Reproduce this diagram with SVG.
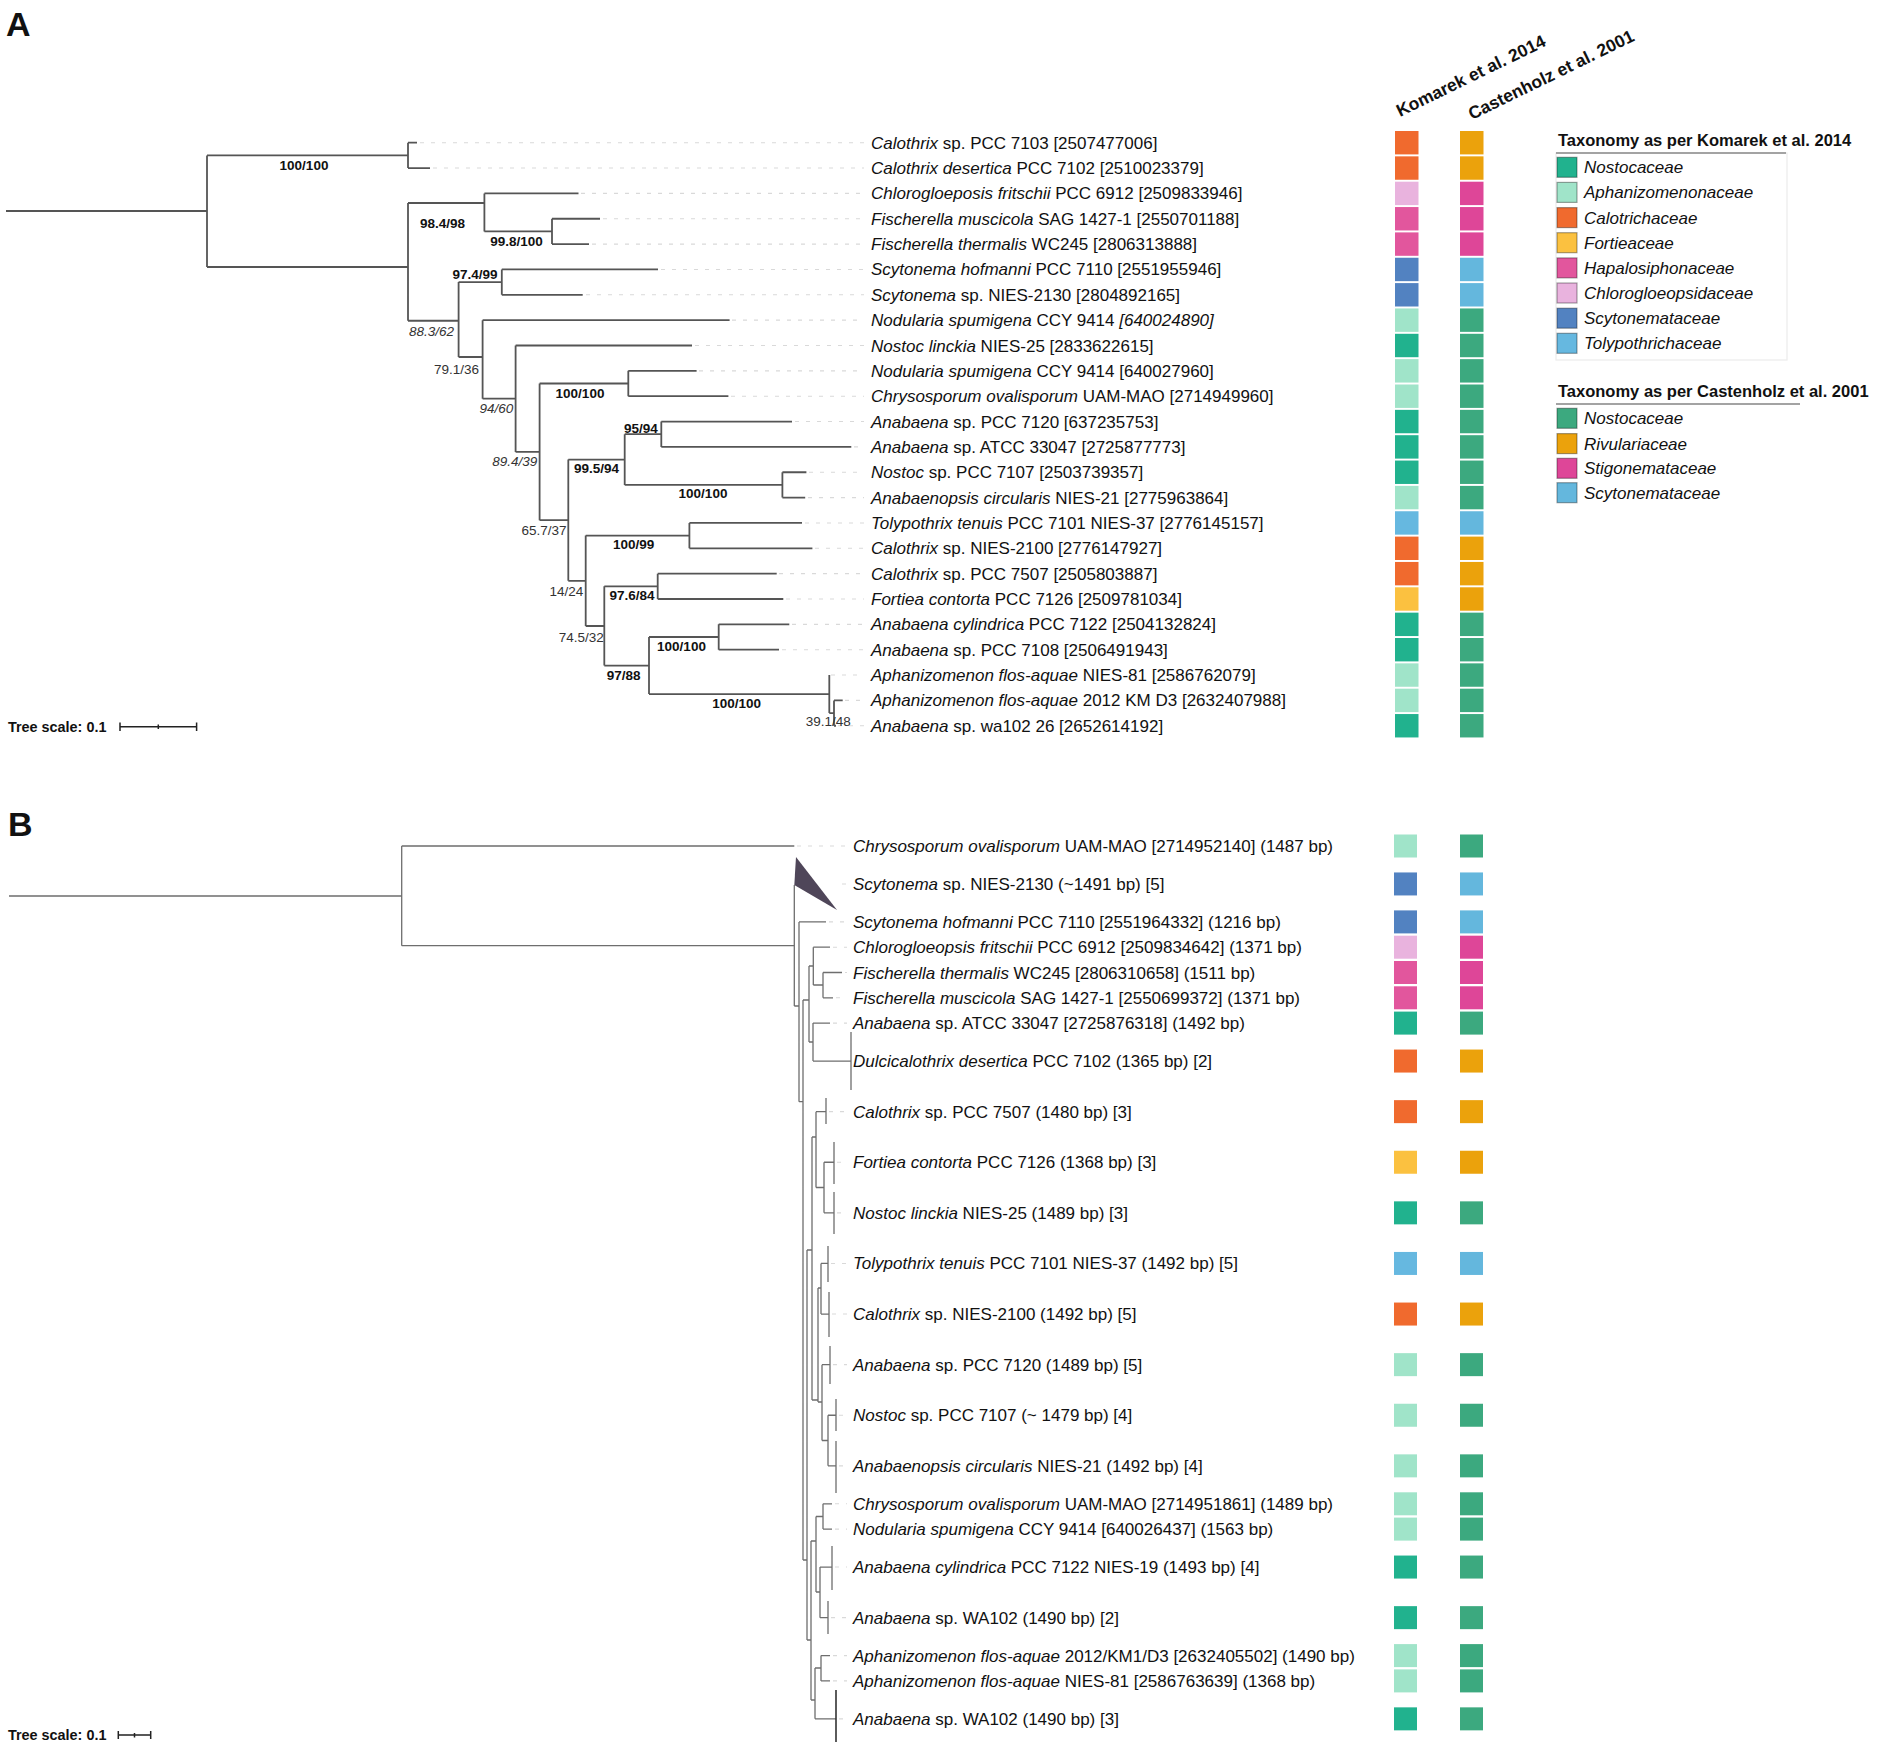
<svg xmlns="http://www.w3.org/2000/svg" width="1878" height="1747" viewBox="0 0 1878 1747">
<style>
text{font-family:"Liberation Sans",Arial,sans-serif;fill:#111}
.t{font-size:17px}
.i{font-style:italic}
.bs{font-size:13.5px;font-weight:bold;text-anchor:middle}
.br{font-size:13.5px;fill:#333;text-anchor:middle}
.hd{font-size:17.5px;font-weight:bold}
.lt{font-size:16.5px;font-weight:bold}
.li{font-size:17px;font-style:italic}
.panel{font-size:34px;font-weight:bold}
.sc{font-size:14.4px;font-weight:bold}
.treeA{fill:none;stroke:#555;stroke-width:1.8}
.treeB{fill:none;stroke:#6e6e6e;stroke-width:1.3}
.guide{fill:none;stroke:#d9d9d9;stroke-width:1.1;stroke-dasharray:4 7}
.kN{fill:#21b28e}.kA{fill:#a0e4c9}.kC{fill:#f06a2e}.kF{fill:#fbc140}.kH{fill:#e2569d}.kP{fill:#e9b3de}.kS{fill:#5282c1}.kT{fill:#66b8e0}
.cN{fill:#3ca97f}.cR{fill:#eba20c}.cS{fill:#de4698}.cT{fill:#64b7dd}
.sw{stroke:#000;stroke-opacity:0.35;stroke-width:1.2}
</style>
<rect width="1878" height="1747" fill="#fff"/>

<text class="panel" x="6" y="36">A</text>
<text class="panel" x="8" y="836">B</text>

<g id="headers">
<text class="hd" transform="translate(1400,117) rotate(-26)">Komarek et al. 2014</text>
<text class="hd" transform="translate(1472,120) rotate(-26)">Castenholz et al. 2001</text>
</g>

<g id="connectors">
<path class="guide" d="M420,142.7H864M433,168.05H864M581,193.4H864M603,218.75H864M592,244.1H864M661,269.45H864M586,294.8H864M732,320.15H864M695,345.5H864M699,370.85H864M731,396.2H864M795,421.55H864M854,446.9H864M809,472.25H864M808,497.6H864M805,522.95H864M815,548.3H864M779,573.65H864M786,599H864M792,624.35H864M782,649.7H864M831,675.05H864M845,700.4H864M838,725.75H864"/>
<path class="treeA" d="M6,211H207M207,155.4V267M207,155.4H408M408,142.7V168.05M408,142.7H417M408,168.05H430
M207,267H408M408,203V320.75M408,203H484.4M484.4,193.4V231.4M484.4,193.4H578.5M484.4,231.4H552M552,218.75V244.1M552,218.75H600M552,244.1H589
M408,320.75H458.6M458.6,282.1V357M458.6,282.1H501.8M501.8,269.45V294.8M501.8,269.45H658M501.8,294.8H582.7
M458.6,357H482.6M482.6,320.15V398.7M482.6,320.15H729.6M482.6,398.7H515.6M515.6,345.5V451.9M515.6,345.5H692
M515.6,451.9H539.6M539.6,383.5V520.2M539.6,383.5H628.3M628.3,370.85V396.2M628.3,370.85H696.6M628.3,396.2H728.4
M539.6,520.2H568.3M568.3,459.6V580.8M568.3,459.6H624.7M624.7,434.2V484.9M624.7,434.2H661.3M661.3,421.55V446.9M661.3,421.55H792M661.3,446.9H851.3
M624.7,484.9H782.4M782.4,472.25V497.6M782.4,472.25H806.4M782.4,497.6H805.2
M568.3,580.8H585.7M585.7,535.6V626M585.7,535.6H689.4M689.4,522.95V548.3M689.4,522.95H802M689.4,548.3H812.4
M585.7,626H604.3M604.3,586.3V665.6M604.3,586.3H657.7M657.7,573.65V599M657.7,573.65H776.7M657.7,599H783.3
M604.3,665.6H649M649,637V694.1M649,637H718.7M718.7,624.35V649.7M718.7,624.35H789.3M718.7,649.7H779
M649,694.1H829.3M829.3,675.05V713.1M829.3,713.1H834M834,700.4V725.75M834,700.4H842.7M834,725.75H836"/>

<path class="guide" d="M797,846H847M842,883.95H847M829,921.9H847M833,947.2H847M845,972.5H847M836,997.8H847M833,1023.1H847M829,1111.65H847M837,1162.25H847M837,1212.85H847M831,1263.45H847M832,1314.05H847M833,1364.65H847M839,1415.25H847M839,1465.85H847M835,1503.8H847M835,1529.1H847M835,1567.05H847M831,1617.65H847M833,1655.6H847M833,1680.9H847M839,1718.85H847"/>
<path class="treeB" d="M9,896H401.7M401.7,846V945.7M401.7,846H794.3M401.7,945.7H794.3
M794.3,885V1006M794.3,1006H799M799,921.9V1101.7M799,921.9H826M799,1101.7H803
M803,1000V1560M803,1000H809M809,966V1042M809,966H813.3M813.3,947.2V985M813.3,947.2H830M813.3,985H823M823,972.5V997.8M823,972.5H842M823,997.8H833
M809,1042H813M813,1023.1V1061.05M813,1023.1H830M813,1061.05H851M851,1032V1090
M803,1560H807M807,1250V1640M807,1250H812M812,1137V1400M812,1137H816M816,1111.65V1187.5M816,1111.65H826M826,1098V1124M816,1187.5H824M824,1162.25V1212.85M824,1162.25H834M834,1142V1184M824,1212.85H834M834,1192V1234
M812,1400H818M818,1288V1402M818,1288H821M821,1263.45V1314.05M821,1263.45H828M828,1246V1282M821,1314.05H829M829,1292V1337
M818,1402H822M822,1364.65V1440.5M822,1364.65H830M830,1346V1384M822,1440.5H828M828,1415.25V1465.85M828,1415.25H836M836,1399V1431M828,1465.85H836M836,1441V1493
M807,1640H811M811,1541V1700M811,1541H816M816,1516.5V1592M816,1516.5H823M823,1503.8V1529.1M823,1503.8H832M823,1529.1H832
M816,1592H820M820,1567.05V1617.65M820,1567.05H832M832,1546V1590M820,1617.65H828M828,1601V1634
M811,1700H815M815,1668V1718.85M815,1668H821M821,1655.6V1680.9M821,1655.6H830M821,1680.9H830M815,1718.85H836"/>
<path d="M836,1690V1742" stroke="#333" stroke-width="1.6"/>
<polygon points="796,857 837,910 794.3,885" fill="#4f4659"/>

<g id="scalebars" stroke="#222" stroke-width="1.5">
<path d="M120,726.7H196.6M120,722.5V731M196.6,722.5V731M158.3,724.5V729"/>
<path d="M118.3,1735H150.7M118.3,1731V1739M150.7,1731V1739M134.5,1733V1737.5"/>
</g>
</g>

<text class="sc" x="8" y="732">Tree scale: 0.1</text>
<text class="sc" x="8" y="1740">Tree scale: 0.1</text>

<g id="bootstrap">
<text class="bs" x="304" y="170">100/100</text>
<text class="bs" x="442.5" y="228">98.4/98</text>
<text class="bs" x="516.5" y="245.7">99.8/100</text>
<text class="bs" x="475" y="279">97.4/99</text>
<text class="bs" x="580" y="397.7">100/100</text>
<text class="bs" x="641" y="432.7">95/94</text>
<text class="bs" x="596.5" y="473.3">99.5/94</text>
<text class="bs" x="703" y="498.3">100/100</text>
<text class="bs" x="633.7" y="549.3">100/99</text>
<text class="bs" x="632" y="600">97.6/84</text>
<text class="bs" x="623.7" y="680">97/88</text>
<text class="bs" x="681.5" y="651">100/100</text>
<text class="bs" x="736.7" y="707.7">100/100</text>
<text class="br i" x="431.5" y="336">88.3/62</text>
<text class="br" x="456.5" y="374">79.1/36</text>
<text class="br i" x="496.5" y="413">94/60</text>
<text class="br i" x="514.7" y="466">89.4/39</text>
<text class="br" x="544" y="535">65.7/37</text>
<text class="br" x="566.4" y="596">14/24</text>
<text class="br" x="581.3" y="641.7">74.5/32</text>
<text class="br" x="828.3" y="726">39.1/48</text>
</g>

<g id="a-leaf-01"><text class="t" x="871" y="148.7"><tspan class="i">Calothrix</tspan> sp. PCC 7103 [2507477006]</text><rect class="kC" x="1395" y="131" width="23.5" height="23.4"/><rect class="cR" x="1460" y="131" width="23.5" height="23.4"/></g>
<g id="a-leaf-02"><text class="t" x="871" y="174.05"><tspan class="i">Calothrix desertica</tspan> PCC 7102 [2510023379]</text><rect class="kC" x="1395" y="156.35" width="23.5" height="23.4"/><rect class="cR" x="1460" y="156.35" width="23.5" height="23.4"/></g>
<g id="a-leaf-03"><text class="t" x="871" y="199.4"><tspan class="i">Chlorogloeposis fritschii</tspan> PCC 6912 [2509833946]</text><rect class="kP" x="1395" y="181.7" width="23.5" height="23.4"/><rect class="cS" x="1460" y="181.7" width="23.5" height="23.4"/></g>
<g id="a-leaf-04"><text class="t" x="871" y="224.75"><tspan class="i">Fischerella muscicola</tspan> SAG 1427-1 [2550701188]</text><rect class="kH" x="1395" y="207.05" width="23.5" height="23.4"/><rect class="cS" x="1460" y="207.05" width="23.5" height="23.4"/></g>
<g id="a-leaf-05"><text class="t" x="871" y="250.1"><tspan class="i">Fischerella thermalis</tspan> WC245 [2806313888]</text><rect class="kH" x="1395" y="232.4" width="23.5" height="23.4"/><rect class="cS" x="1460" y="232.4" width="23.5" height="23.4"/></g>
<g id="a-leaf-06"><text class="t" x="871" y="275.45"><tspan class="i">Scytonema hofmanni</tspan> PCC 7110 [2551955946]</text><rect class="kS" x="1395" y="257.75" width="23.5" height="23.4"/><rect class="cT" x="1460" y="257.75" width="23.5" height="23.4"/></g>
<g id="a-leaf-07"><text class="t" x="871" y="300.8"><tspan class="i">Scytonema</tspan> sp. NIES-2130 [2804892165]</text><rect class="kS" x="1395" y="283.1" width="23.5" height="23.4"/><rect class="cT" x="1460" y="283.1" width="23.5" height="23.4"/></g>
<g id="a-leaf-08"><text class="t" x="871" y="326.15"><tspan class="i">Nodularia spumigena</tspan> CCY 9414 <tspan class="i">[640024890]</tspan></text><rect class="kA" x="1395" y="308.45" width="23.5" height="23.4"/><rect class="cN" x="1460" y="308.45" width="23.5" height="23.4"/></g>
<g id="a-leaf-09"><text class="t" x="871" y="351.5"><tspan class="i">Nostoc linckia</tspan> NIES-25 [2833622615]</text><rect class="kN" x="1395" y="333.8" width="23.5" height="23.4"/><rect class="cN" x="1460" y="333.8" width="23.5" height="23.4"/></g>
<g id="a-leaf-10"><text class="t" x="871" y="376.85"><tspan class="i">Nodularia spumigena</tspan> CCY 9414 [640027960]</text><rect class="kA" x="1395" y="359.15" width="23.5" height="23.4"/><rect class="cN" x="1460" y="359.15" width="23.5" height="23.4"/></g>
<g id="a-leaf-11"><text class="t" x="871" y="402.2"><tspan class="i">Chrysosporum ovalisporum</tspan> UAM-MAO [2714949960]</text><rect class="kA" x="1395" y="384.5" width="23.5" height="23.4"/><rect class="cN" x="1460" y="384.5" width="23.5" height="23.4"/></g>
<g id="a-leaf-12"><text class="t" x="871" y="427.55"><tspan class="i">Anabaena</tspan> sp. PCC 7120 [637235753]</text><rect class="kN" x="1395" y="409.85" width="23.5" height="23.4"/><rect class="cN" x="1460" y="409.85" width="23.5" height="23.4"/></g>
<g id="a-leaf-13"><text class="t" x="871" y="452.9"><tspan class="i">Anabaena</tspan> sp. ATCC 33047 [2725877773]</text><rect class="kN" x="1395" y="435.2" width="23.5" height="23.4"/><rect class="cN" x="1460" y="435.2" width="23.5" height="23.4"/></g>
<g id="a-leaf-14"><text class="t" x="871" y="478.25"><tspan class="i">Nostoc</tspan> sp. PCC 7107 [2503739357]</text><rect class="kN" x="1395" y="460.55" width="23.5" height="23.4"/><rect class="cN" x="1460" y="460.55" width="23.5" height="23.4"/></g>
<g id="a-leaf-15"><text class="t" x="871" y="503.6"><tspan class="i">Anabaenopsis circularis</tspan> NIES-21 [2775963864]</text><rect class="kA" x="1395" y="485.9" width="23.5" height="23.4"/><rect class="cN" x="1460" y="485.9" width="23.5" height="23.4"/></g>
<g id="a-leaf-16"><text class="t" x="871" y="528.95"><tspan class="i">Tolypothrix tenuis</tspan> PCC 7101 NIES-37 [2776145157]</text><rect class="kT" x="1395" y="511.25" width="23.5" height="23.4"/><rect class="cT" x="1460" y="511.25" width="23.5" height="23.4"/></g>
<g id="a-leaf-17"><text class="t" x="871" y="554.3"><tspan class="i">Calothrix</tspan> sp. NIES-2100 [2776147927]</text><rect class="kC" x="1395" y="536.6" width="23.5" height="23.4"/><rect class="cR" x="1460" y="536.6" width="23.5" height="23.4"/></g>
<g id="a-leaf-18"><text class="t" x="871" y="579.65"><tspan class="i">Calothrix</tspan> sp. PCC 7507 [2505803887]</text><rect class="kC" x="1395" y="561.95" width="23.5" height="23.4"/><rect class="cR" x="1460" y="561.95" width="23.5" height="23.4"/></g>
<g id="a-leaf-19"><text class="t" x="871" y="605"><tspan class="i">Fortiea contorta</tspan> PCC 7126 [2509781034]</text><rect class="kF" x="1395" y="587.3" width="23.5" height="23.4"/><rect class="cR" x="1460" y="587.3" width="23.5" height="23.4"/></g>
<g id="a-leaf-20"><text class="t" x="871" y="630.35"><tspan class="i">Anabaena cylindrica</tspan> PCC 7122 [2504132824]</text><rect class="kN" x="1395" y="612.65" width="23.5" height="23.4"/><rect class="cN" x="1460" y="612.65" width="23.5" height="23.4"/></g>
<g id="a-leaf-21"><text class="t" x="871" y="655.7"><tspan class="i">Anabaena</tspan> sp. PCC 7108 [2506491943]</text><rect class="kN" x="1395" y="638" width="23.5" height="23.4"/><rect class="cN" x="1460" y="638" width="23.5" height="23.4"/></g>
<g id="a-leaf-22"><text class="t" x="871" y="681.05"><tspan class="i">Aphanizomenon flos-aquae</tspan> NIES-81 [2586762079]</text><rect class="kA" x="1395" y="663.35" width="23.5" height="23.4"/><rect class="cN" x="1460" y="663.35" width="23.5" height="23.4"/></g>
<g id="a-leaf-23"><text class="t" x="871" y="706.4"><tspan class="i">Aphanizomenon flos-aquae</tspan> 2012 KM D3 [2632407988]</text><rect class="kA" x="1395" y="688.7" width="23.5" height="23.4"/><rect class="cN" x="1460" y="688.7" width="23.5" height="23.4"/></g>
<g id="a-leaf-24"><text class="t" x="871" y="731.75"><tspan class="i">Anabaena</tspan> sp. wa102 26 [2652614192]</text><rect class="kN" x="1395" y="714.05" width="23.5" height="23.4"/><rect class="cN" x="1460" y="714.05" width="23.5" height="23.4"/></g>

<g id="b-leaf-01"><text class="t" x="853" y="852"><tspan class="i">Chrysosporum ovalisporum</tspan> UAM-MAO [2714952140] (1487 bp)</text><rect class="kA" x="1394" y="834.5" width="23" height="23"/><rect class="cN" x="1460" y="834.5" width="23" height="23"/></g>
<g id="b-leaf-02"><text class="t" x="853" y="889.95"><tspan class="i">Scytonema</tspan> sp. NIES-2130 (~1491 bp) [5]</text><rect class="kS" x="1394" y="872.45" width="23" height="23"/><rect class="cT" x="1460" y="872.45" width="23" height="23"/></g>
<g id="b-leaf-03"><text class="t" x="853" y="927.9"><tspan class="i">Scytonema hofmanni</tspan> PCC 7110 [2551964332] (1216 bp)</text><rect class="kS" x="1394" y="910.4" width="23" height="23"/><rect class="cT" x="1460" y="910.4" width="23" height="23"/></g>
<g id="b-leaf-04"><text class="t" x="853" y="953.2"><tspan class="i">Chlorogloeopsis fritschii</tspan> PCC 6912 [2509834642] (1371 bp)</text><rect class="kP" x="1394" y="935.7" width="23" height="23"/><rect class="cS" x="1460" y="935.7" width="23" height="23"/></g>
<g id="b-leaf-05"><text class="t" x="853" y="978.5"><tspan class="i">Fischerella thermalis</tspan> WC245 [2806310658] (1511 bp)</text><rect class="kH" x="1394" y="961" width="23" height="23"/><rect class="cS" x="1460" y="961" width="23" height="23"/></g>
<g id="b-leaf-06"><text class="t" x="853" y="1003.8"><tspan class="i">Fischerella muscicola</tspan> SAG 1427-1 [2550699372] (1371 bp)</text><rect class="kH" x="1394" y="986.3" width="23" height="23"/><rect class="cS" x="1460" y="986.3" width="23" height="23"/></g>
<g id="b-leaf-07"><text class="t" x="853" y="1029.1"><tspan class="i">Anabaena</tspan> sp. ATCC 33047 [2725876318] (1492 bp)</text><rect class="kN" x="1394" y="1011.6" width="23" height="23"/><rect class="cN" x="1460" y="1011.6" width="23" height="23"/></g>
<g id="b-leaf-08"><text class="t" x="853" y="1067.05"><tspan class="i">Dulcicalothrix desertica</tspan> PCC 7102 (1365 bp) [2]</text><rect class="kC" x="1394" y="1049.55" width="23" height="23"/><rect class="cR" x="1460" y="1049.55" width="23" height="23"/></g>
<g id="b-leaf-09"><text class="t" x="853" y="1117.65"><tspan class="i">Calothrix</tspan> sp. PCC 7507 (1480 bp) [3]</text><rect class="kC" x="1394" y="1100.15" width="23" height="23"/><rect class="cR" x="1460" y="1100.15" width="23" height="23"/></g>
<g id="b-leaf-10"><text class="t" x="853" y="1168.25"><tspan class="i">Fortiea contorta</tspan> PCC 7126 (1368 bp) [3]</text><rect class="kF" x="1394" y="1150.75" width="23" height="23"/><rect class="cR" x="1460" y="1150.75" width="23" height="23"/></g>
<g id="b-leaf-11"><text class="t" x="853" y="1218.85"><tspan class="i">Nostoc linckia</tspan> NIES-25 (1489 bp) [3]</text><rect class="kN" x="1394" y="1201.35" width="23" height="23"/><rect class="cN" x="1460" y="1201.35" width="23" height="23"/></g>
<g id="b-leaf-12"><text class="t" x="853" y="1269.45"><tspan class="i">Tolypothrix tenuis</tspan> PCC 7101 NIES-37 (1492 bp) [5]</text><rect class="kT" x="1394" y="1251.95" width="23" height="23"/><rect class="cT" x="1460" y="1251.95" width="23" height="23"/></g>
<g id="b-leaf-13"><text class="t" x="853" y="1320.05"><tspan class="i">Calothrix</tspan> sp. NIES-2100 (1492 bp) [5]</text><rect class="kC" x="1394" y="1302.55" width="23" height="23"/><rect class="cR" x="1460" y="1302.55" width="23" height="23"/></g>
<g id="b-leaf-14"><text class="t" x="853" y="1370.65"><tspan class="i">Anabaena</tspan> sp. PCC 7120 (1489 bp) [5]</text><rect class="kA" x="1394" y="1353.15" width="23" height="23"/><rect class="cN" x="1460" y="1353.15" width="23" height="23"/></g>
<g id="b-leaf-15"><text class="t" x="853" y="1421.25"><tspan class="i">Nostoc</tspan> sp. PCC 7107 (~ 1479 bp) [4]</text><rect class="kA" x="1394" y="1403.75" width="23" height="23"/><rect class="cN" x="1460" y="1403.75" width="23" height="23"/></g>
<g id="b-leaf-16"><text class="t" x="853" y="1471.85"><tspan class="i">Anabaenopsis circularis</tspan> NIES-21 (1492 bp) [4]</text><rect class="kA" x="1394" y="1454.35" width="23" height="23"/><rect class="cN" x="1460" y="1454.35" width="23" height="23"/></g>
<g id="b-leaf-17"><text class="t" x="853" y="1509.8"><tspan class="i">Chrysosporum ovalisporum</tspan> UAM-MAO [2714951861] (1489 bp)</text><rect class="kA" x="1394" y="1492.3" width="23" height="23"/><rect class="cN" x="1460" y="1492.3" width="23" height="23"/></g>
<g id="b-leaf-18"><text class="t" x="853" y="1535.1"><tspan class="i">Nodularia spumigena</tspan> CCY 9414 [640026437] (1563 bp)</text><rect class="kA" x="1394" y="1517.6" width="23" height="23"/><rect class="cN" x="1460" y="1517.6" width="23" height="23"/></g>
<g id="b-leaf-19"><text class="t" x="853" y="1573.05"><tspan class="i">Anabaena cylindrica</tspan> PCC 7122 NIES-19 (1493 bp) [4]</text><rect class="kN" x="1394" y="1555.55" width="23" height="23"/><rect class="cN" x="1460" y="1555.55" width="23" height="23"/></g>
<g id="b-leaf-20"><text class="t" x="853" y="1623.65"><tspan class="i">Anabaena</tspan> sp. WA102 (1490 bp) [2]</text><rect class="kN" x="1394" y="1606.15" width="23" height="23"/><rect class="cN" x="1460" y="1606.15" width="23" height="23"/></g>
<g id="b-leaf-21"><text class="t" x="853" y="1661.6"><tspan class="i">Aphanizomenon flos-aquae</tspan> 2012/KM1/D3 [2632405502] (1490 bp)</text><rect class="kA" x="1394" y="1644.1" width="23" height="23"/><rect class="cN" x="1460" y="1644.1" width="23" height="23"/></g>
<g id="b-leaf-22"><text class="t" x="853" y="1686.9"><tspan class="i">Aphanizomenon flos-aquae</tspan> NIES-81 [2586763639] (1368 bp)</text><rect class="kA" x="1394" y="1669.4" width="23" height="23"/><rect class="cN" x="1460" y="1669.4" width="23" height="23"/></g>
<g id="b-leaf-23"><text class="t" x="853" y="1724.85"><tspan class="i">Anabaena</tspan> sp. WA102 (1490 bp) [3]</text><rect class="kN" x="1394" y="1707.35" width="23" height="23"/><rect class="cN" x="1460" y="1707.35" width="23" height="23"/></g>

<g id="legend-komarek">
<text class="lt" x="1558" y="146">Taxonomy as per Komarek et al. 2014</text>
<rect x="1556" y="153" width="231" height="207" fill="none" stroke="#ececec" stroke-width="1.2"/>
<line x1="1556" y1="153" x2="1786" y2="153" stroke="#a3a3a3" stroke-width="2"/>
<rect class="kN sw" x="1557" y="157.3" width="20" height="20"/><text class="li" x="1584" y="173.3">Nostocaceae</text>
<rect class="kA sw" x="1557" y="182.4" width="20" height="20"/><text class="li" x="1584" y="198.4">Aphanizomenonaceae</text>
<rect class="kC sw" x="1557" y="207.6" width="20" height="20"/><text class="li" x="1584" y="223.6">Calotrichaceae</text>
<rect class="kF sw" x="1557" y="232.7" width="20" height="20"/><text class="li" x="1584" y="248.7">Fortieaceae</text>
<rect class="kH sw" x="1557" y="257.9" width="20" height="20"/><text class="li" x="1584" y="273.9">Hapalosiphonaceae</text>
<rect class="kP sw" x="1557" y="283" width="20" height="20"/><text class="li" x="1584" y="299">Chlorogloeopsidaceae</text>
<rect class="kS sw" x="1557" y="308.2" width="20" height="20"/><text class="li" x="1584" y="324.2">Scytonemataceae</text>
<rect class="kT sw" x="1557" y="333.3" width="20" height="20"/><text class="li" x="1584" y="349.3">Tolypothrichaceae</text>
</g>

<g id="legend-castenholz">
<text class="lt" x="1558" y="397">Taxonomy as per Castenholz et al. 2001</text>
<line x1="1556" y1="404" x2="1800" y2="404" stroke="#a3a3a3" stroke-width="2"/>
<rect class="cN sw" x="1557" y="408.3" width="20" height="20"/><text class="li" x="1584" y="424.3">Nostocaceae</text>
<rect class="cR sw" x="1557" y="433.6" width="20" height="20"/><text class="li" x="1584" y="449.6">Rivulariaceae</text>
<rect class="cS sw" x="1557" y="458.3" width="20" height="20"/><text class="li" x="1584" y="474.3">Stigonemataceae</text>
<rect class="cT sw" x="1557" y="482.7" width="20" height="20"/><text class="li" x="1584" y="498.7">Scytonemataceae</text>
</g>
</svg>
